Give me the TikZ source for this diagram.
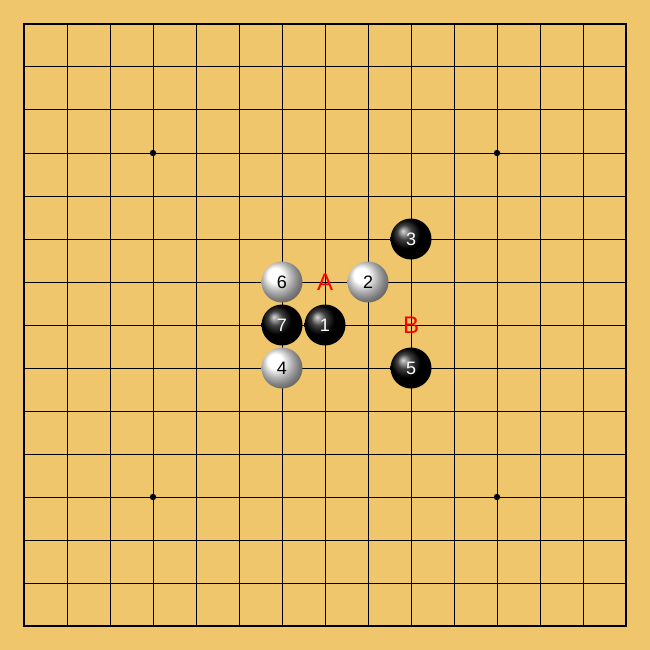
\documentclass[tikz,border=0pt]{standalone}
\usepackage{fontspec}
\setmainfont{Liberation Sans}
\definecolor{wood}{RGB}{240,198,108}
\begin{document}
\begin{tikzpicture}[x=1pt,y=-1pt,
  blackstone/.style={circle,minimum size=41pt,inner sep=0pt,ball color=black,text=white,font=\fontsize{18}{18}\selectfont},
  whitestone/.style={circle,minimum size=41pt,inner sep=0pt,ball color=white,text=black,font=\fontsize{18}{18}\selectfont},
  pointlabel/.style={text=red,font=\fontsize{24}{24}\selectfont,inner sep=0pt}]
\fill[wood] (0,0) rectangle (650,650);
\foreach \i in {0,...,14} {
  \draw[line width=1pt] (24+43*\i,24) -- (24+43*\i,626);
  \draw[line width=1pt] (24,24+43*\i) -- (626,24+43*\i);
}
\draw[line width=2pt] (24,24) rectangle (626,626);
\foreach \x in {153,497}
  \foreach \y in {153,497}
    \fill (\x,\y) circle (3.2pt);

\node[blackstone] (s1) at (325,325) {1};
\node[whitestone] (s2) at (368,282) {2};
\node[blackstone] (s3) at (411,239) {3};
\node[whitestone] (s4) at (282,368) {4};
\node[blackstone] (s5) at (411,368) {5};
\node[whitestone] (s6) at (282,282) {6};
\node[blackstone] (s7) at (282,325) {7};

\node[pointlabel] (A) at (325,282) {A};
\node[pointlabel] (B) at (411,325) {B};
\end{tikzpicture}
\end{document}
